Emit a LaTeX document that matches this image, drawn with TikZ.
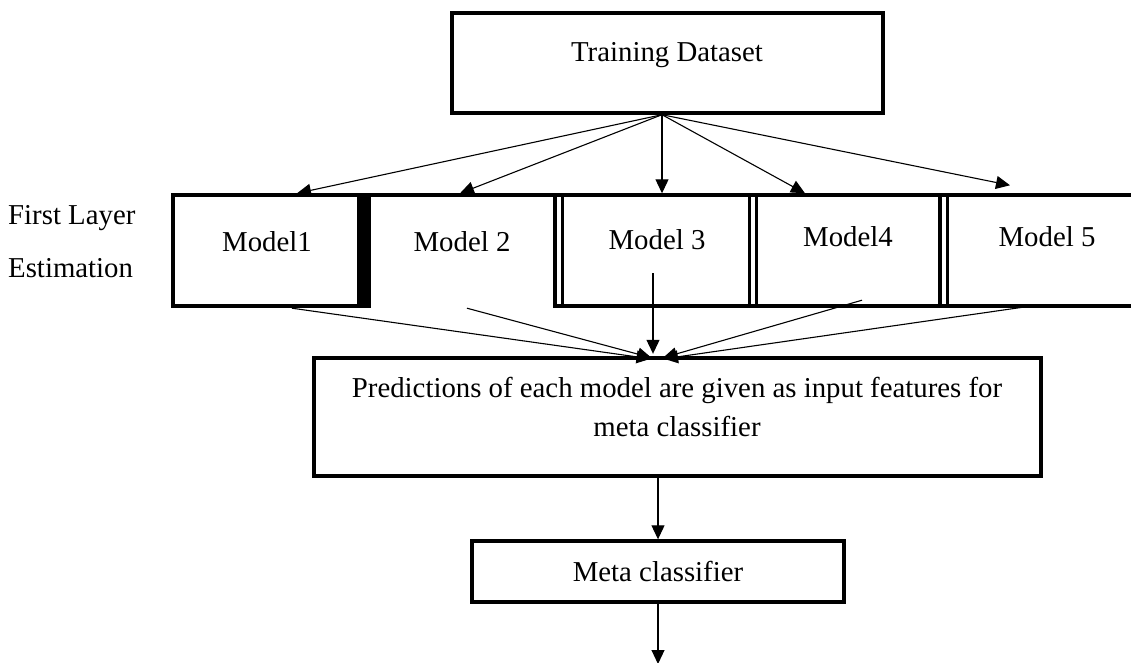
\documentclass[tikz,border=0pt]{standalone}
\usepackage{fontspec}
\setmainfont{Liberation Serif}
\usetikzlibrary{arrows.meta,calc}
\begin{document}
\begin{tikzpicture}[x=1pt,y=-1pt,
  box/.style={draw, line width=3.4pt, inner sep=0pt},
  lbl/.style={inner sep=0pt, font=\fontsize{28.8}{39}\selectfont},
  cell/.style={inner sep=0pt, minimum height=111pt},
  edge/.style={line width=1.1pt},
  conn/.style={edge, -{Triangle[length=14pt,width=13pt]}},
  frame/.style={line width=3.4pt, line cap=rect},
  sep/.style={line width=3.4pt},
]
\useasboundingbox (0,0) rectangle (1131,663);

% top: training data
\node[box, minimum width=431pt, minimum height=100pt] (train) at (667.5,63) {};
\node[lbl] (trainlbl) at (667,55) {Training Dataset};

% first layer: five model cells
\node[cell, minimum width=187pt] (m1) at (265.5,250.5) {};
\node[cell, minimum width=185pt] (m2) at (462.5,250.5) {};
\node[cell, minimum width=188pt] (m3) at (656,250.5) {};
\node[cell, minimum width=184pt] (m4) at (848,250.5) {};
\node[cell, minimum width=184pt] (m5) at (1039,250.5) {};
\node[lbl] (t1) at (267,242) {Model1};
\node[lbl] (t2) at (462,242) {Model 2};
\node[lbl] (t3) at (657,240) {Model 3};
\node[lbl] (t4) at (848,237) {Model4};
\node[lbl] (t5) at (1047,237) {Model 5};

% frame of the model row
\draw[frame] (1131,195) -- (173,195) -- (173,306) -- (365,306);
\draw[frame] (555,306) -- (1131,306);
\fill (357,193.3) rectangle (371,307.7);
\foreach \x in {555,562.5,749.5,756.5,940,947.5}
  \draw[sep] (\x,195) -- (\x,306);

% side caption
\node[lbl, anchor=west] (cap1) at (8,218) {First Layer};
\node[lbl, anchor=west] (cap2) at (8,268) {Estimation};

% fan-out from the training data
\coordinate (fan) at ($(train.south)+(-5.5,0)$);
\draw[conn] (fan) -- ($(m1.north)+(31.5,-1.5)$);
\draw[conn] (fan) -- ($(m2.north)+(-2.5,-1.5)$);
\draw[conn] (fan) -- ($(m3.north)+(6,-1.5)$);
\draw[conn] (fan) -- ($(m4.north)+(-43,-1.5)$);
\draw[conn] (fan) -- ($(m5.north)+(-29,-9.5)$);

% combined predictions
\node[box, minimum width=727pt, minimum height=118pt] (pred) at (677.5,417) {};
\node[lbl, align=center] (predlbl) at (677,407)
  {Predictions of each model are given as input features for\\meta classifier};

% fan-in to the predictions box
\draw[conn] ($(m1.south)+(26.5,2)$) -- ($(pred.north)+(-27,2.5)$);
\draw[conn] ($(m2.south)+(4.5,2)$) -- ($(pred.north)+(-26,1.5)$);
\draw[conn] ($(m3.center)+(-3,22.5)$) -- ($(pred.north)+(-24.5,-2.5)$);
\draw[conn] ($(m4.south)+(14,-6)$) -- ($(pred.north)+(-14.5,1.5)$);
\draw[conn] ($(m5.south)+(-16,1)$) -- ($(pred.north)+(-13.5,2.5)$);

% meta classifier and output
\node[box, lbl, minimum width=372pt, minimum height=61pt] (meta) at (658,571.5) {Meta classifier};
\draw[conn] (pred.south -| meta.north) -- (meta.north);
\coordinate (out) at (658,664);
\draw[conn] (meta.south) -- (out);
\end{tikzpicture}
\end{document}
